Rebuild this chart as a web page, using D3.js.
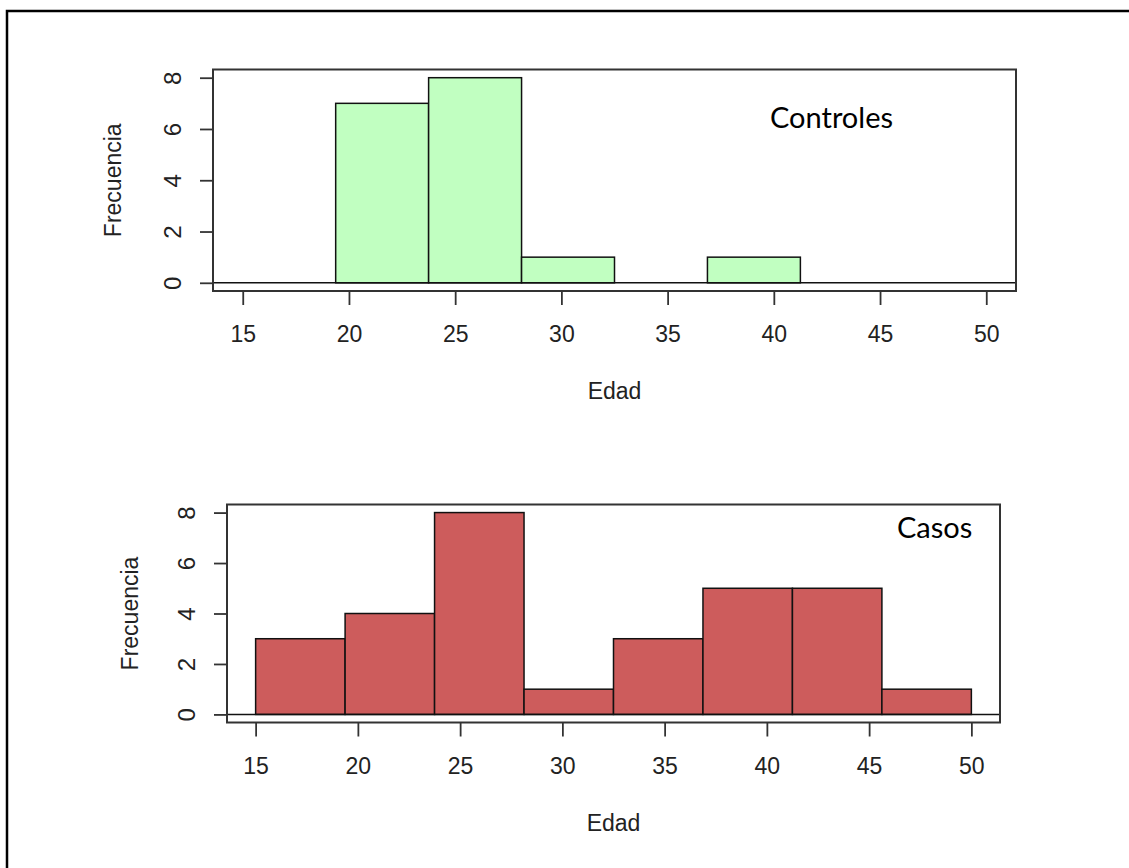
<!DOCTYPE html>
<html>
<head>
<meta charset="utf-8">
<script src="https://cdn.jsdelivr.net/npm/d3@7"></script>
<style>
	body { margin: 0; background: #fff; }
	text { font-family: "Liberation Sans", Arial, sans-serif; fill: #222; }
	.tag { font-family: Lato, "Open Sans", sans-serif; fill: #000; }
</style>
</head>
<body>
<div id="graphic"></div>
<script>
// histogram breaks (seq(15, 50, length = 9)) and counts per bin
const breaks = [15, 19.375, 23.75, 28.125, 32.5, 36.875, 41.25, 45.625, 50];
const controles = [0, 7, 8, 1, 0, 1, 0, 0];
const casos = [3, 4, 8, 1, 3, 5, 5, 1];
const xTicks = [15, 20, 25, 30, 35, 40, 45, 50];
const yTicks = [0, 2, 4, 6, 8];
const xLabel = 'Edad';
const yLabel = 'Frecuencia';

const width = 1129, height = 868;

let svg = d3.select('#graphic').append('svg')
	.attr('width', width)
	.attr('height', height);

// frame round the picture (left and top edges are visible)
svg.append('path')
	.attr('d', `M7,${height} V11 H${width}`)
	.attr('fill', 'none')
	.attr('stroke', '#000')
	.attr('stroke-width', 2.5);

function drawHist(opts) {
	const box = opts.box;

	// R style: limits extended by 4%
	const x = d3.scaleLinear().domain([13.6, 51.4]).range([box.left, box.right]);
	const y = d3.scaleLinear().domain([-0.32, 8.32]).range([box.bottom, box.top]);

	let g = svg.append('g');

	g.append('g')
		.selectAll('rect')
		.data(opts.counts)
		.join('rect')
		.attr('x', (d, i) => x(breaks[i]))
		.attr('width', (d, i) => x(breaks[i + 1]) - x(breaks[i]))
		.attr('y', (d) => y(d))
		.attr('height', (d) => y(0) - y(d))
		.attr('fill', opts.colour)
		.attr('stroke', '#111')
		.attr('stroke-width', 1.5);

	// line at zero
	g.append('line')
		.attr('x1', box.left).attr('x2', box.right)
		.attr('y1', y(0)).attr('y2', y(0))
		.attr('stroke', '#111')
		.attr('stroke-width', 1.5);

	// box
	g.append('rect')
		.attr('x', box.left).attr('y', box.top)
		.attr('width', box.right - box.left)
		.attr('height', box.bottom - box.top)
		.attr('fill', 'none')
		.attr('stroke', '#333')
		.attr('stroke-width', 2);

	let xAxis = d3.axisBottom(x)
		.tickValues(xTicks)
		.tickSize(14)
		.tickPadding(21)
		.tickFormat(d3.format('d'));

	g.append('g')
		.attr('transform', `translate(0,${box.bottom})`)
		.call(xAxis)
		.call((a) => a.select('.domain').remove())
		.call((a) => a.selectAll('line').attr('stroke', '#333').attr('stroke-width', 1.8))
		.call((a) => a.selectAll('text')
			.attr('font-size', 23)
			.attr('font-family', '"Liberation Sans", Arial, sans-serif')
			.attr('fill', '#222'));

	let yAxis = d3.axisLeft(y)
		.tickValues(yTicks)
		.tickSize(13)
		.tickFormat(d3.format('d'));

	g.append('g')
		.attr('transform', `translate(${box.left},0)`)
		.call(yAxis)
		.call((a) => a.select('.domain').remove())
		.call((a) => a.selectAll('line').attr('stroke', '#333').attr('stroke-width', 1.8))
		.call((a) => a.selectAll('text')
			.attr('x', null)
			.attr('dy', '0.36em')
			.attr('transform', 'translate(-41,0) rotate(-90)')
			.attr('text-anchor', 'middle')
			.attr('font-size', 24)
			.attr('font-family', '"Liberation Sans", Arial, sans-serif')
			.attr('fill', '#222'));

	// axis titles
	g.append('text')
		.attr('x', (box.left + box.right) / 2)
		.attr('y', box.bottom + 108)
		.attr('text-anchor', 'middle')
		.attr('font-size', 23)
		.text(xLabel);

	g.append('text')
		.attr('transform', `translate(${box.left - opts.yTitleOffset},${(box.top + box.bottom) / 2}) rotate(-90)`)
		.attr('dy', '0.36em')
		.attr('text-anchor', 'middle')
		.attr('font-size', 23)
		.text(yLabel);

	// group label inside the panel
	g.append('text')
		.attr('class', 'tag')
		.attr('x', opts.tag.x)
		.attr('y', opts.tag.y)
		.attr('font-size', 29)
		.text(opts.tag.text);
}

drawHist({
	counts: controles,
	colour: '#c1ffc1',
	box: { left: 213, right: 1016, top: 69.5, bottom: 291 },
	yTitleOffset: 100,
	tag: { text: 'Controles', x: 770, y: 128 }
});

drawHist({
	counts: casos,
	colour: '#cd5c5c',
	box: { left: 227, right: 1000, top: 504.5, bottom: 722.5 },
	yTitleOffset: 97,
	tag: { text: 'Casos', x: 897, y: 538 }
});
</script>
</body>
</html>
